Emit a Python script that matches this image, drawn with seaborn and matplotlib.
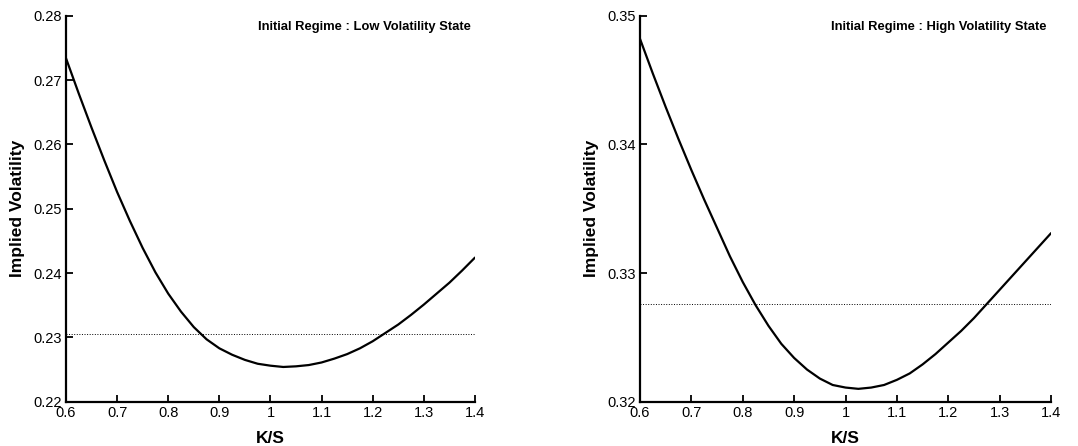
import pandas as pd
import matplotlib
matplotlib.use('Agg')
import matplotlib.pyplot as plt
import seaborn as sns

sns.set_style('ticks', rc={
    'axes.edgecolor': 'black',
    'axes.labelcolor': 'black',
    'text.color': 'black',
    'xtick.color': 'black',
    'ytick.color': 'black',
})
plt.rcParams['font.family'] = ['Liberation Sans', 'DejaVu Sans']

moneyness = [0.600, 0.625, 0.650, 0.675, 0.700, 0.725, 0.750, 0.775, 0.800,
             0.825, 0.850, 0.875, 0.900, 0.925, 0.950, 0.975, 1.000, 1.025,
             1.050, 1.075, 1.100, 1.125, 1.150, 1.175, 1.200, 1.225, 1.250,
             1.275, 1.300, 1.325, 1.350, 1.375, 1.400]

iv_low = [0.2734, 0.2679, 0.2626, 0.2575, 0.2526, 0.2481, 0.2439, 0.2401, 0.2368,
          0.2340, 0.2316, 0.2297, 0.2283, 0.2273, 0.2265, 0.2259, 0.2256, 0.2254,
          0.2255, 0.2257, 0.2261, 0.2267, 0.2274, 0.2283, 0.2294, 0.2307, 0.2320,
          0.2335, 0.2351, 0.2368, 0.2385, 0.2404, 0.2424]

iv_high = [0.3482, 0.3455, 0.3429, 0.3404, 0.3380, 0.3357, 0.3335, 0.3313, 0.3293,
           0.3275, 0.3259, 0.3245, 0.3234, 0.3225, 0.3218, 0.3213, 0.3211, 0.3210,
           0.3211, 0.3213, 0.3217, 0.3222, 0.3229, 0.3237, 0.3246, 0.3255, 0.3265,
           0.3276, 0.3287, 0.3298, 0.3309, 0.3320, 0.3331]

flat_low = 0.2306
flat_high = 0.3276

panels = [
    ('Initial Regime : Low Volatility State', iv_low, flat_low,
     (0.22, 0.28), [0.22, 0.23, 0.24, 0.25, 0.26, 0.27, 0.28]),
    ('Initial Regime : High Volatility State', iv_high, flat_high,
     (0.32, 0.35), [0.32, 0.33, 0.34, 0.35]),
]
xticks = [0.6, 0.7, 0.8, 0.9, 1.0, 1.1, 1.2, 1.3, 1.4]
xticklabels = ['0.6', '0.7', '0.8', '0.9', '1', '1.1', '1.2', '1.3', '1.4']

fig = plt.figure(figsize=(10.78, 4.46), dpi=100)
rects = [[0.0612, 0.0993, 0.3794, 0.8655], [0.5937, 0.0993, 0.3813, 0.8655]]

for rect, (title, iv, flat, ylim, yticks) in zip(rects, panels):
    ax = fig.add_axes(rect)
    df = pd.DataFrame({'K/S': moneyness, 'iv': iv})
    sns.lineplot(data=df, x='K/S', y='iv', ax=ax, color='black', linewidth=1.6)
    flat_df = pd.DataFrame({'K/S': [moneyness[0], moneyness[-1]], 'iv': [flat, flat]})
    sns.lineplot(data=flat_df, x='K/S', y='iv', ax=ax, color='black',
                 linewidth=0.7, linestyle=':')
    ax.set_xlim(0.6, 1.4)
    ax.set_ylim(*ylim)
    ax.set_xticks(xticks)
    ax.set_xticklabels(xticklabels)
    ax.set_yticks(yticks)
    ax.set_yticklabels([f'{t:g}' for t in yticks])
    ax.tick_params(direction='in', labelsize=10.5, length=5, width=1.3, pad=3)
    sns.despine(ax=ax)
    for s in ['left', 'bottom']:
        ax.spines[s].set_linewidth(1.6)
    ax.set_xlabel('K/S', fontsize=12.5, fontweight='bold', labelpad=8)
    ax.set_ylabel('Implied Volatility', fontsize=12.5, fontweight='bold', labelpad=6)
    ax.text(0.99, 0.97, title, transform=ax.transAxes, ha='right', va='center',
            fontsize=9.4, fontweight='bold')

fig.savefig('out.png', dpi=100)
